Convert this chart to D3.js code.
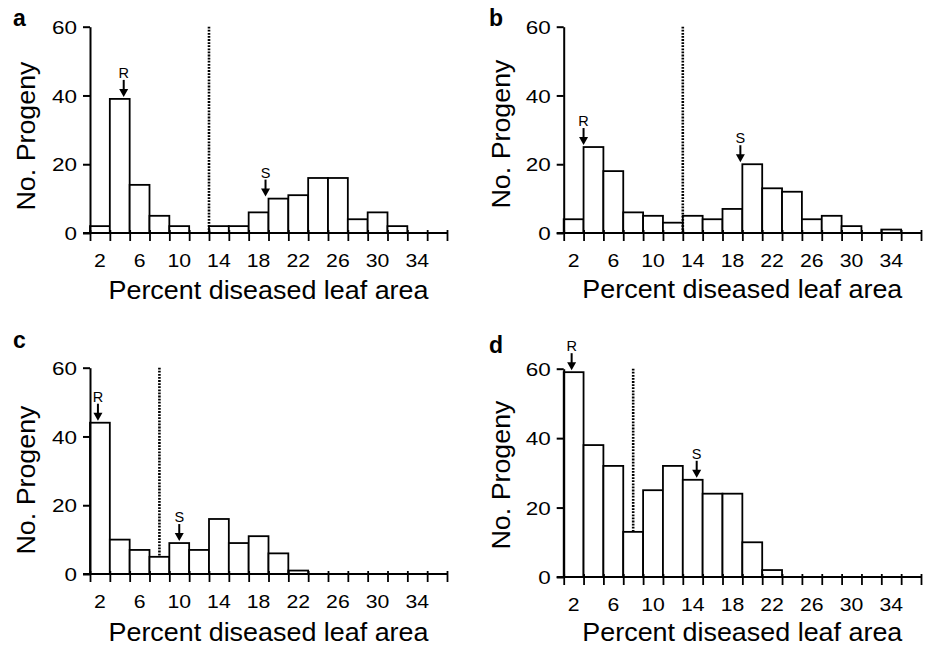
<!DOCTYPE html>
<html>
<head>
<meta charset="utf-8">
<script src="https://cdn.jsdelivr.net/npm/d3@7"></script>
<style>
  body { margin: 0; background: #fff; }
  text { font-family: "Liberation Sans", Arial, Helvetica, sans-serif; fill: #000; }
</style>
</head>
<body>
<svg id="chart" width="926" height="647"></svg>
<script>
// bin centres (percent diseased leaf area), 2-unit bins
const binCenters = [2, 4, 6, 8, 10, 12, 14, 16, 18, 20, 22, 24, 26, 28, 30, 32, 34, 36];
const xTickLabels = [2, 6, 10, 14, 18, 22, 26, 30, 34];
const yTicks = [0, 20, 40, 60];

// progeny counts per bin
const countsA = [2, 39, 14, 5, 2, 0, 2, 2, 6, 10, 11, 16, 16, 4, 6, 2, 0, 0];
const countsB = [4, 25, 18, 6, 5, 3, 5, 4, 7, 20, 13, 12, 4, 5, 2, 0, 1, 0];
const countsC = [44, 10, 7, 5, 9, 7, 16, 9, 11, 6, 1, 0, 0, 0, 0, 0, 0, 0];
const countsD = [59, 38, 32, 13, 25, 32, 28, 24, 24, 10, 2, 0, 0, 0, 0, 0, 0, 0];

// dotted threshold line: x position and where it stops
const thresholdX = [13, 13, 8, 8];
const thresholdEnd = [0, 0, 5, 13];

// parent markers: R (resistant) and S (susceptible) arrows
const rPos = [4.4, 3, 1.8, 1.8];
const rTop = [39, 25, 44, 59];
const sPos = [18.7, 18.8, 10, 14.4];
const sTop = [10, 20, 9, 28];

const panelLetters = ["a", "b", "c", "d"];
const panelCounts = [countsA, countsB, countsC, countsD];

// page layout for each panel
const layout = [
  { x0: 90,    x1: 447, y0: 233, y1: 26.7,  letterX: 13,  letterY: 26,  ytX: 35,  ytY: 136, xtY: 299 },
  { x0: 563.7, x1: 921, y0: 233, y1: 26.7,  letterX: 489, letterY: 26,  ytX: 510, ytY: 134, xtY: 298 },
  { x0: 90,    x1: 447, y0: 574, y1: 367.7, letterX: 13,  letterY: 348, ytX: 35,  ytY: 480, xtY: 641 },
  { x0: 563.7, x1: 921, y0: 577, y1: 368.7, letterX: 489, letterY: 353, ytX: 510, ytY: 475, xtY: 641 }
];

const svg = d3.select("#chart");

panelLetters.forEach((letter, i) => {
  const L = layout[i];
  const counts = panelCounts[i];
  const g = svg.append("g");

  const x = d3.scaleLinear().domain([1, 37]).range([L.x0, L.x1]);
  const y = d3.scaleLinear().domain([0, 60]).range([L.y0, L.y1]);

  // bars
  g.selectAll(".bar")
    .data(binCenters.map((c, j) => ({ c, v: counts[j] })).filter(d => d.v > 0))
    .enter()
    .append("rect")
    .attr("class", "bar")
    .attr("x", d => x(d.c - 1))
    .attr("width", d => x(d.c + 1) - x(d.c - 1))
    .attr("y", d => y(d.v))
    .attr("height", d => y(0) - y(d.v))
    .attr("fill", "#fff")
    .attr("stroke", "#000")
    .attr("stroke-width", 1.8);

  // dotted threshold
  g.append("line")
    .attr("x1", x(thresholdX[i])).attr("x2", x(thresholdX[i]))
    .attr("y1", y(60)).attr("y2", y(thresholdEnd[i]))
    .attr("stroke", "#000")
    .attr("stroke-width", 2.6)
    .attr("stroke-dasharray", "1.8,1.3");

  // x axis: ticks at bin edges, labels at selected centres
  const edges = binCenters.map(c => c - 1).concat([37]);
  const xAxis = g.append("g")
    .attr("transform", `translate(0,${y(0)})`)
    .call(d3.axisBottom(x).tickValues(edges).tickSizeInner(8).tickSizeOuter(0).tickFormat(""));
  xAxis.select(".domain").remove();
  xAxis.selectAll(".tick line").attr("y1", -3).attr("stroke-width", 1.8);
  xAxis.append("line")
    .attr("x1", L.x0 - 7).attr("x2", L.x1)
    .attr("stroke", "#000").attr("stroke-width", 2);

  g.selectAll(".xlab")
    .data(xTickLabels)
    .enter()
    .append("text")
    .attr("class", "xlab")
    .attr("x", d => x(d))
    .attr("y", y(0) + 34)
    .attr("text-anchor", "middle")
    .attr("textLength", d => String(d).length * 11.8)
    .attr("lengthAdjust", "spacingAndGlyphs")
    .style("font-size", "19px")
    .text(d => d);

  // y axis
  const yAxis = g.append("g")
    .attr("transform", `translate(${L.x0},0)`)
    .call(d3.axisLeft(y).tickValues(yTicks).tickSizeInner(7).tickSizeOuter(0).tickPadding(6));
  yAxis.select(".domain").attr("stroke-width", 2);
  yAxis.selectAll(".tick line").attr("stroke-width", 2);
  yAxis.selectAll(".tick text")
    .style("font-size", "18.5px")
    .style("font-family", "'Liberation Sans', Arial, sans-serif")
    .attr("textLength", d => String(d).length * 12.5)
    .attr("lengthAdjust", "spacingAndGlyphs")
    .attr("dy", "0.36em");

  // axis titles
  g.append("text")
    .attr("x", (L.x0 + L.x1) / 2)
    .attr("y", L.xtY)
    .attr("text-anchor", "middle")
    .attr("textLength", 320)
    .attr("lengthAdjust", "spacingAndGlyphs")
    .style("font-size", "25.5px")
    .text("Percent diseased leaf area");

  g.append("text")
    .attr("transform", `translate(${L.ytX},${L.ytY}) rotate(-90)`)
    .attr("text-anchor", "middle")
    .attr("textLength", 149)
    .attr("lengthAdjust", "spacingAndGlyphs")
    .style("font-size", "26px")
    .text("No. Progeny");

  // panel letter
  g.append("text")
    .attr("x", L.letterX)
    .attr("y", L.letterY)
    .style("font-size", "23px")
    .style("font-weight", "bold")
    .text(letter);

  // R and S arrows
  [["R", rPos[i], rTop[i]], ["S", sPos[i], sTop[i]]].forEach(([lab, px, top]) => {
    const ax = x(px);
    const tip = y(top) - 2;
    g.append("line")
      .attr("x1", ax).attr("x2", ax)
      .attr("y1", tip - 17).attr("y2", tip - 7)
      .attr("stroke", "#000").attr("stroke-width", 2);
    g.append("path")
      .attr("d", `M${ax - 4.5},${tip - 8}L${ax + 4.5},${tip - 8}L${ax},${tip}Z`)
      .attr("fill", "#000");
    g.append("text")
      .attr("x", ax)
      .attr("y", tip - 19)
      .attr("text-anchor", "middle")
      .style("font-size", "14.5px")
      .text(lab);
  });
});
</script>
</body>
</html>
